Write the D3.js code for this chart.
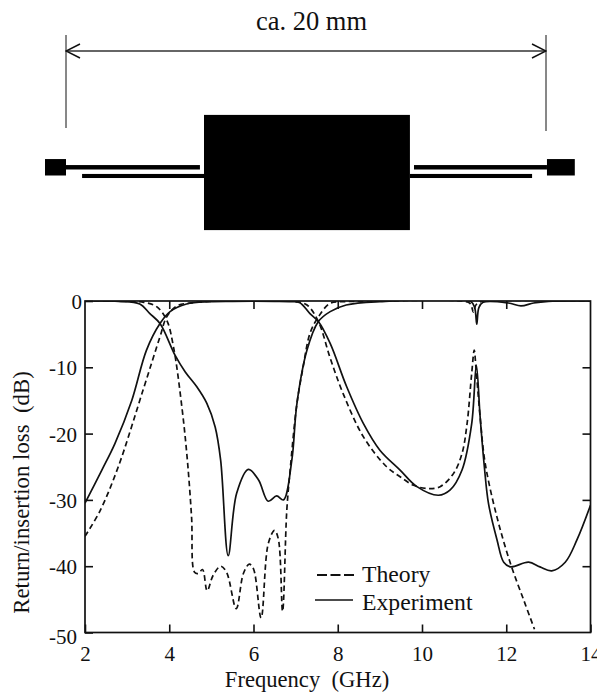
<!DOCTYPE html>
<html>
<head>
<meta charset="utf-8">
<script src="https://cdn.jsdelivr.net/npm/d3@7"></script>
<style>
  html, body { margin: 0; padding: 0; background: #fff; overflow: hidden; }
  svg { display: block; }
  text { font-family: "Liberation Serif", serif; fill: #111; }
  .curve { fill: none; stroke: #111; stroke-width: 1.7; }
  .dashed { stroke-dasharray: 5.5 3.5; }
  .axis path { display: none; }
  .axis line { stroke: #111; stroke-width: 1.6; }
  .axis text { font-size: 21px; font-family: "Liberation Serif", serif; }
</style>
</head>
<body>
<div id="chart"></div>
<script>
// [GHz, dB]
const expInsertion = [[2,-30.5],[2.4,-25.5],[2.71,-21.5],[3.11,-15],[3.46,-7.4],[3.78,-3.4],[4.02,-1.6],[4.41,-0.45],[4.96,-0.1],[5.5,-0.05],[6.5,-0.05],[6.9,-0.1],[7.1,-0.25],[7.34,-1.9],[7.54,-3.1],[7.82,-6.4],[8.21,-12.9],[8.61,-18.5],[9,-22.5],[9.48,-25.5],[9.88,-28],[10.39,-29.3],[10.67,-28.5],[10.95,-25.5],[11.18,-18.5],[11.29,-9.7],[11.38,-17.5],[11.48,-25],[11.58,-30.6],[11.78,-36],[11.94,-39.4],[12.1,-40.1],[12.53,-39.4],[12.8,-40.1],[13.08,-40.7],[13.4,-39.4],[13.68,-36],[14,-30.8]];
const expReturn = [[2,0],[2.8,-0.05],[3.3,-0.45],[3.54,-1.9],[3.78,-3.4],[4.14,-8.2],[4.38,-10.7],[4.65,-12.9],[4.89,-15.4],[5.09,-19],[5.22,-24],[5.4,-38.4],[5.6,-29],[5.88,-25.4],[6.12,-27],[6.35,-30.2],[6.55,-29.4],[6.71,-30],[6.91,-24],[7.03,-15.5],[7.27,-7.4],[7.54,-3.1],[7.82,-1.6],[8.2,-0.6],[9,-0.1],[11.15,-0.05],[11.25,-1],[11.3,-3.5],[11.35,-1],[11.45,-0.2],[12.05,-0.3],[12.35,-0.75],[12.65,-0.3],[13,-0.05],[14,0]];
const theoryInsertion = [[2,-35.5],[2.36,-31.6],[2.79,-25],[3.38,-13.4],[3.78,-5.4],[3.94,-2.4],[4.18,-0.75],[4.57,-0.25],[5,-0.05],[6.5,0],[7,-0.1],[7.27,-0.6],[7.54,-3.1],[7.82,-8.6],[8.13,-14],[8.61,-20.5],[9.16,-25],[9.48,-26.5],[9.8,-27.8],[10.15,-28.3],[10.43,-28],[10.75,-26],[10.95,-23],[11.07,-18.5],[11.18,-10.9],[11.24,-7.4],[11.28,-10],[11.38,-17.5],[11.5,-24.5],[11.78,-32.6],[12.1,-39.6],[12.42,-45.2],[12.67,-49.5]];
const theoryReturn = [[2,0],[3,-0.05],[3.4,-0.2],[3.7,-0.85],[3.94,-2.9],[4.1,-6.9],[4.3,-16],[4.43,-24],[4.53,-32.6],[4.6,-40.9],[4.69,-41.1],[4.79,-40.5],[4.9,-43.7],[5.04,-41.4],[5.22,-40],[5.36,-40.9],[5.59,-46.4],[5.76,-41.1],[5.9,-39.7],[6,-40.4],[6.18,-47.8],[6.35,-36.6],[6.5,-34.6],[6.59,-35.9],[6.69,-46.8],[6.79,-31.6],[6.87,-25.5],[7.03,-15.5],[7.18,-9.9],[7.34,-4.9],[7.54,-2.4],[7.82,-0.35],[8.2,-0.1],[9,0],[11.1,-0.2],[11.17,-0.7],[11.22,-1.7],[11.27,-0.7],[11.35,-0.2],[11.5,0],[14,0]];

const xTicks = [2, 4, 6, 8, 10, 12, 14];
const yTicks = [0, -10, -20, -30, -40, -50];

// schematic parts in mm, measured from the left reference line and the body centre
const padParts = [[-0.875, 0, -0.56, 0.125], [20.04, 21.2, -0.56, 0.125]];
const lineParts = [[0, 5.58, -0.31, -0.125], [0.67, 5.75, 0.06, 0.23], [14.5, 20.04, -0.31, -0.125], [14.33, 19.42, 0.06, 0.23]];
const bodyPart = [[5.75, 14.33, -2.4, 2.4]];
const spanMm = [0, 20];

const width = 597;
const height = 692;

const svg = d3.select('#chart').append('svg')
  .attr('width', width)
  .attr('height', height)
  .attr('viewBox', `0 0 ${width} ${height}`);

const defs = svg.append('defs');

defs.append('marker')
  .attr('id', 'openArrow')
  .attr('viewBox', '0 0 16 16')
  .attr('refX', 15)
  .attr('refY', 8)
  .attr('markerWidth', 16)
  .attr('markerHeight', 16)
  .attr('markerUnits', 'userSpaceOnUse')
  .attr('orient', 'auto-start-reverse')
  .append('path')
  .attr('d', 'M1,1 L15,8 L1,15')
  .attr('fill', 'none')
  .attr('stroke', '#111')
  .attr('stroke-width', 1.5);

// schematic on top
const mmX = d3.scaleLinear().domain([0, 20]).range([66, 546]);
const mmY = d3.scaleLinear().domain([-1, 1]).range([172.5 - 24, 172.5 + 24]);

const parts = svg.append('g').attr('class', 'schematic');
parts.selectAll('rect')
  .data([...bodyPart, ...padParts, ...lineParts])
  .join('rect')
  .attr('x', (d) => mmX(d[0]))
  .attr('width', (d) => mmX(d[1]) - mmX(d[0]))
  .attr('y', (d) => mmY(d[2]))
  .attr('height', (d) => mmY(d[3]) - mmY(d[2]))
  .attr('fill', '#000');

parts.append('line')
  .attr('x1', mmX(spanMm[0]))
  .attr('x2', mmX(spanMm[1]))
  .attr('y1', 51)
  .attr('y2', 51)
  .attr('stroke', '#333')
  .attr('stroke-width', 1.3)
  .attr('marker-start', 'url(#openArrow)')
  .attr('marker-end', 'url(#openArrow)');

parts.selectAll('.ext')
  .data(spanMm)
  .join('line')
  .attr('class', 'ext')
  .attr('x1', (d) => mmX(d))
  .attr('x2', (d) => mmX(d))
  .attr('y1', 35)
  .attr('y2', (d) => (d === 0 ? 128 : 131))
  .attr('stroke', '#111')
  .attr('stroke-width', 1);

svg.append('text')
  .attr('x', 311.5)
  .attr('y', 30)
  .attr('text-anchor', 'middle')
  .style('font-size', '26.5px')
  .text('ca. 20 mm');

// loss plot
const margin = { top: 301, right: 6.5, bottom: 59.5, left: 85 };
const xScale = d3.scaleLinear().domain([2, 14]).range([margin.left, width - margin.right]);
const yScale = d3.scaleLinear().domain([-50, 0]).range([height - margin.bottom, margin.top]);

const tickLen = 8;

defs.append('clipPath')
  .attr('id', 'plotArea')
  .append('rect')
  .attr('x', xScale(2))
  .attr('y', yScale(0))
  .attr('width', xScale(14) - xScale(2))
  .attr('height', yScale(-50) - yScale(0));

svg.append('g').attr('class', 'axis')
  .attr('transform', `translate(0, ${yScale(-50)})`)
  .call(d3.axisBottom(xScale).tickValues(xTicks).tickFormat(d3.format('d')).tickSizeInner(-tickLen).tickSizeOuter(0).tickPadding(14));

svg.append('g').attr('class', 'axis')
  .attr('transform', `translate(0, ${yScale(0)})`)
  .call(d3.axisTop(xScale).tickValues(xTicks.slice(1, -1)).tickFormat('').tickSizeInner(-tickLen).tickSizeOuter(0));

// the original labels use a plain hyphen; "0" and "-50" sit a little off their ticks
const yAxisG = svg.append('g').attr('class', 'axis')
  .attr('transform', `translate(${xScale(2)}, 0)`)
  .call(d3.axisLeft(yScale).tickValues(yTicks).tickFormat((d) => String(d)).tickSizeInner(-tickLen).tickSizeOuter(0).tickPadding(8));
yAxisG.selectAll('.tick text')
  .attr('dx', (d) => (d === 0 ? 5 : 0))
  .attr('dy', (d) => (d === -50 ? '0.5em' : '0.36em'));

svg.append('g').attr('class', 'axis')
  .attr('transform', `translate(${xScale(14)}, 0)`)
  .call(d3.axisRight(yScale).tickValues(yTicks.slice(1, -1)).tickFormat('').tickSizeInner(-tickLen).tickSizeOuter(0));

svg.append('rect')
  .attr('x', xScale(2))
  .attr('y', yScale(0))
  .attr('width', xScale(14) - xScale(2))
  .attr('height', yScale(-50) - yScale(0))
  .attr('fill', 'none')
  .attr('stroke', '#111')
  .attr('stroke-width', 1.7);

const line = d3.line()
  .x((d) => xScale(d[0]))
  .y((d) => yScale(d[1]))
  .curve(d3.curveCatmullRom.alpha(0.5));

const curves = svg.append('g').attr('clip-path', 'url(#plotArea)');
[expInsertion, expReturn].forEach((series) => {
  curves.append('path').datum(series).attr('class', 'curve').attr('d', line);
});
[theoryInsertion, theoryReturn].forEach((series) => {
  curves.append('path').datum(series).attr('class', 'curve dashed').attr('d', line);
});

// legend
svg.append('line')
  .attr('class', 'curve')
  .attr('x1', 317).attr('x2', 354).attr('y1', 575).attr('y2', 575)
  .style('stroke-width', 2.2)
  .style('stroke-dasharray', '10 3.5');
svg.append('line')
  .attr('class', 'curve')
  .attr('x1', 315).attr('x2', 353).attr('y1', 600).attr('y2', 600);
svg.append('text').attr('x', 362).attr('y', 582).style('font-size', '23.7px').text('Theory');
svg.append('text').attr('x', 362).attr('y', 610).style('font-size', '23.7px').text('Experiment');

// axis titles
svg.append('text')
  .attr('x', 307)
  .attr('y', 687)
  .attr('text-anchor', 'middle')
  .style('font-size', '22.6px')
  .style('white-space', 'pre')
  .text('Frequency  (GHz)');

svg.append('text')
  .attr('transform', 'translate(29, 492.5) rotate(-90)')
  .attr('text-anchor', 'middle')
  .style('font-size', '22.8px')
  .style('white-space', 'pre')
  .text('Return/insertion loss  (dB)');
</script>
</body>
</html>
